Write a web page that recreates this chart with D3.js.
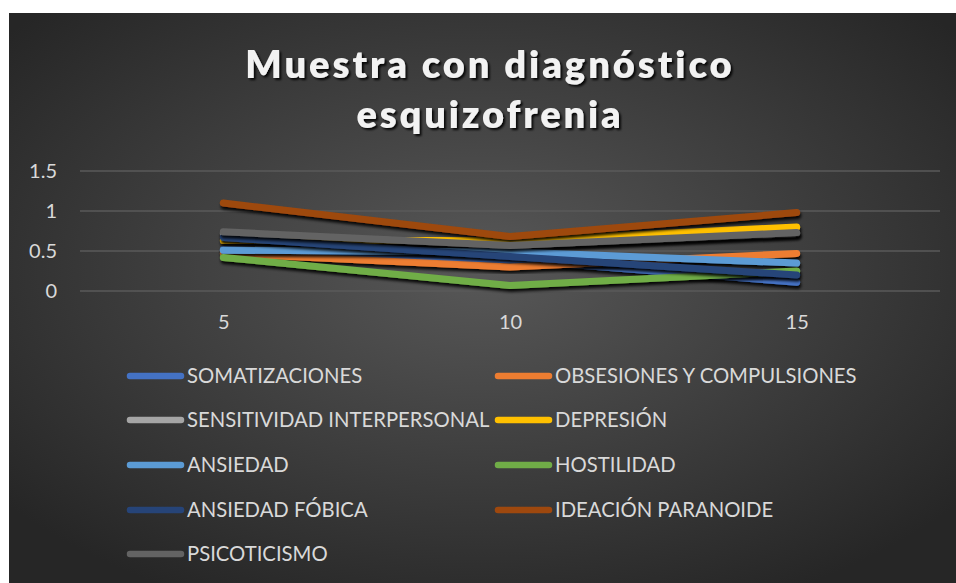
<!DOCTYPE html>
<html>
<head>
<meta charset="utf-8">
<script src="https://cdn.jsdelivr.net/npm/d3@7"></script>
<style>
  html, body { margin: 0; padding: 0; background: #ffffff; }
  svg { display: block; }
</style>
</head>
<body>
<svg id="chart" width="956" height="583"></svg>
<script>
// ---- data ----
const categories = ["5", "10", "15"];
const seriesNames = [
  "SOMATIZACIONES", "OBSESIONES Y COMPULSIONES", "SENSITIVIDAD INTERPERSONAL",
  "DEPRESIÓN", "ANSIEDAD", "HOSTILIDAD", "ANSIEDAD FÓBICA",
  "IDEACIÓN PARANOIDE", "PSICOTICISMO"
];
const somatizaciones = [0.52, 0.39, 0.11];
const obsesiones     = [0.47, 0.30, 0.47];
const sensitividad   = [0.72, 0.57, 0.72];
const depresion      = [0.63, 0.63, 0.80];
const ansiedad       = [0.51, 0.49, 0.35];
const hostilidad     = [0.42, 0.07, 0.25];
const ansiedadFobica = [0.67, 0.43, 0.20];
const ideacion       = [1.10, 0.68, 0.98];
const psicoticismo   = [0.74, 0.57, 0.73];
const yTicks = [0, 0.5, 1, 1.5];
const titleLines = ["Muestra con diagnóstico", "esquizofrenia"];

const seriesValues = [somatizaciones, obsesiones, sensitividad, depresion, ansiedad,
                      hostilidad, ansiedadFobica, ideacion, psicoticismo];
const colors = ["#4472C4", "#ED7D31", "#A5A5A5", "#FFC000", "#5B9BD5",
                "#70AD47", "#264478", "#9E480E", "#636363"];
const series = seriesNames.map((n, i) => ({ name: n, values: seriesValues[i], color: colors[i] }));

// ---- layout ----
const FONT = "Lato, 'Open Sans', sans-serif";
const svg = d3.select("#chart");
const defs = svg.append("defs");
const rg = defs.append("radialGradient").attr("id", "bg")
  .attr("cx", "50%").attr("cy", "45%").attr("r", "65%");
rg.append("stop").attr("offset", "0%").attr("stop-color", "#585858");
rg.append("stop").attr("offset", "100%").attr("stop-color", "#262626");

const sh = defs.append("filter").attr("id", "shadow")
  .attr("x", "-10%").attr("y", "-50%").attr("width", "120%").attr("height", "200%");
sh.append("feDropShadow").attr("dx", 1).attr("dy", 3).attr("stdDeviation", 1.4)
  .attr("flood-color", "#000").attr("flood-opacity", 0.9);

const tsh = defs.append("filter").attr("id", "tshadow")
  .attr("x", "-10%").attr("y", "-30%").attr("width", "120%").attr("height", "160%");
tsh.append("feDropShadow").attr("dx", 2).attr("dy", 2).attr("stdDeviation", 1)
  .attr("flood-color", "#000").attr("flood-opacity", 0.9);

svg.append("rect").attr("x", 9).attr("y", 13).attr("width", 947).attr("height", 570)
  .attr("fill", "url(#bg)");

const x = d3.scalePoint().domain(categories).range([80, 940]).padding(0.5);
const y = d3.scaleLinear().domain([0, 1.5]).range([291, 171]);

// title
const title = svg.append("g").attr("filter", "url(#tshadow)");
const targetW = [490, 267];
titleLines.forEach((t, i) => {
  const tx = title.append("text")
    .attr("x", 490).attr("y", [78, 128][i])
    .attr("text-anchor", "middle")
    .attr("font-family", FONT)
    .attr("font-weight", 800).attr("font-size", 38)
    .attr("fill", "#f2f2f2").text(t);
  const w = tx.node().getComputedTextLength();
  const ls = (targetW[i] - w) / t.length;
  tx.attr("letter-spacing", ls.toFixed(2));
});

// grid
svg.append("g").selectAll("line").data(yTicks).join("line")
  .attr("x1", 80).attr("x2", 940)
  .attr("y1", d => y(d)).attr("y2", d => y(d))
  .attr("stroke", "#5a5a5a").attr("stroke-width", 1.5);

// y axis
const yAxis = svg.append("g").attr("transform", "translate(57,0)")
  .call(d3.axisLeft(y).tickValues(yTicks).tickSize(0).tickPadding(0).tickFormat(d3.format("")));
yAxis.select(".domain").remove();
yAxis.selectAll("text").attr("fill", "#d9d9d9")
  .attr("font-family", FONT).attr("font-size", 20);

// x axis
const xAxis = svg.append("g").attr("transform", "translate(0,315)")
  .call(d3.axisBottom(x).tickSize(0).tickPadding(0));
xAxis.select(".domain").remove();
xAxis.selectAll("text").attr("fill", "#d9d9d9")
  .attr("font-family", FONT).attr("font-size", 20);

// lines
const line = d3.line().x((d, i) => x(categories[i])).y(d => y(d));
svg.append("g").selectAll("path").data(series).join("path")
  .attr("d", d => line(d.values))
  .attr("fill", "none").attr("stroke", d => d.color)
  .attr("stroke-width", 7).attr("stroke-linecap", "round").attr("stroke-linejoin", "round")
  .attr("filter", "url(#shadow)");

// legend
const leg = svg.append("g");
const colX = [127, 495];
const rowY = [376, 420, 465, 510, 554];
series.forEach((s, i) => {
  const cx = colX[i % 2], cy = rowY[Math.floor(i / 2)];
  leg.append("line").attr("x1", cx + 3).attr("x2", cx + 54).attr("y1", cy).attr("y2", cy)
    .attr("stroke", s.color).attr("stroke-width", 6.5).attr("stroke-linecap", "round");
  leg.append("text").attr("x", cx + 60).attr("y", cy).attr("dy", "0.36em")
    .attr("font-family", FONT).attr("font-size", 20.3)
    .attr("fill", "#d9d9d9").text(s.name);
});
</script>
</body>
</html>
